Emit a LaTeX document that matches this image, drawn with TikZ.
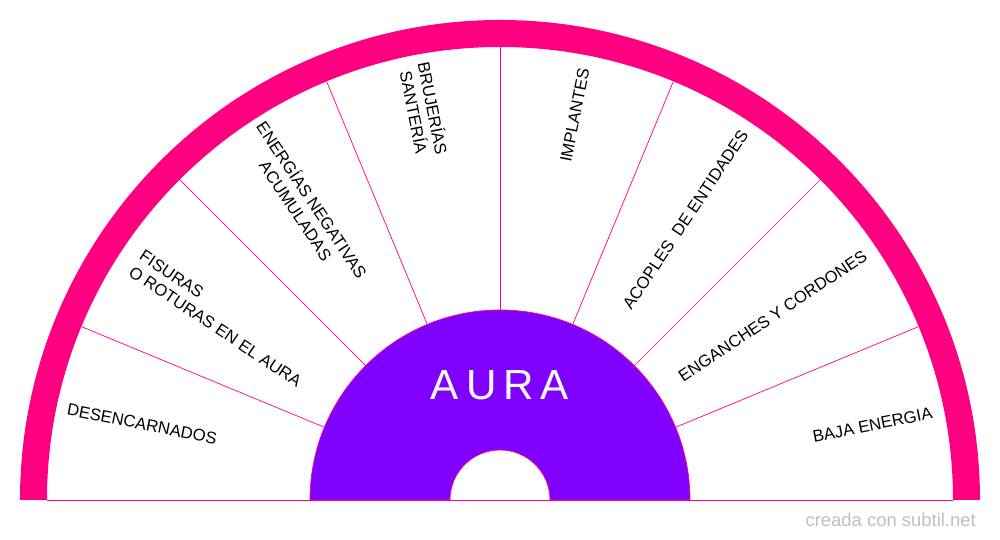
\documentclass[tikz,border=0pt]{standalone}
\usepackage{fontspec}
\setmainfont{Liberation Sans}
\definecolor{ringpink}{RGB}{255,0,128}
\definecolor{auraviolet}{RGB}{128,0,255}
\tikzset{
  label/.style={font=\fontsize{9.5}{11}\selectfont, inner sep=0pt, align=center},
  divider/.style={draw=ringpink, line width=0.4pt}
}
\begin{document}
\begin{tikzpicture}[x=0.02cm, y=0.02cm]
\useasboundingbox (-500,-40) rectangle (500,500);
% outer ring
\fill[ringpink] (-480,0) arc (180:0:480) -- (453,0) arc (0:180:453) -- cycle;
\draw[divider] (-453,0) -- (453,0);
% sector dividers
\foreach \a in {22.5,45,...,157.5}
  \draw[divider] (\a:190) -- (\a:453);
% aura core
\fill[auraviolet, draw=ringpink, line width=0.4pt] (-190,0) arc (180:0:190) -- (50,0) arc (0:180:50) -- cycle;
\node (aura) [text=white, font=\fontsize{24}{28}\selectfont] at (0,115) {A\hspace{4pt}U\hspace{4pt}R\hspace{4pt}A};
% sector labels
\node (desenc) [label, rotate=-11.25] at (168:366) {DESENCARNADOS};
\node (fisuras) [label, align=left, rotate=-33.75] at (147:333) {FISURAS\\O ROTURAS EN EL AURA};
\node (energias) [label, rotate=-56.25] at (123.5:354) {ENERGÍAS NEGATIVAS\\ACUMULADAS};
\node (brujerias) [label, rotate=-78.75] at (101:397) {BRUJERÍAS\\SANTERÍA};
\node (implantes) [label, rotate=78.75] at (79:392) {IMPLANTES};
\node (acoples) [label, rotate=56.25] at (56.5:336) {ACOPLES~ DE ENTIDADES};
\node (enganches) [label, rotate=33.75] at (34:329) {ENGANCHES Y CORDONES};
\node (baja) [label, rotate=11.25] at (11.4:380) {BAJA ENERGIA};
\node (credit) [anchor=east, text=black!25, font=\fontsize{10.5}{12}\selectfont] at (482,-20) {creada con subtil.net};
\end{tikzpicture}
\end{document}
